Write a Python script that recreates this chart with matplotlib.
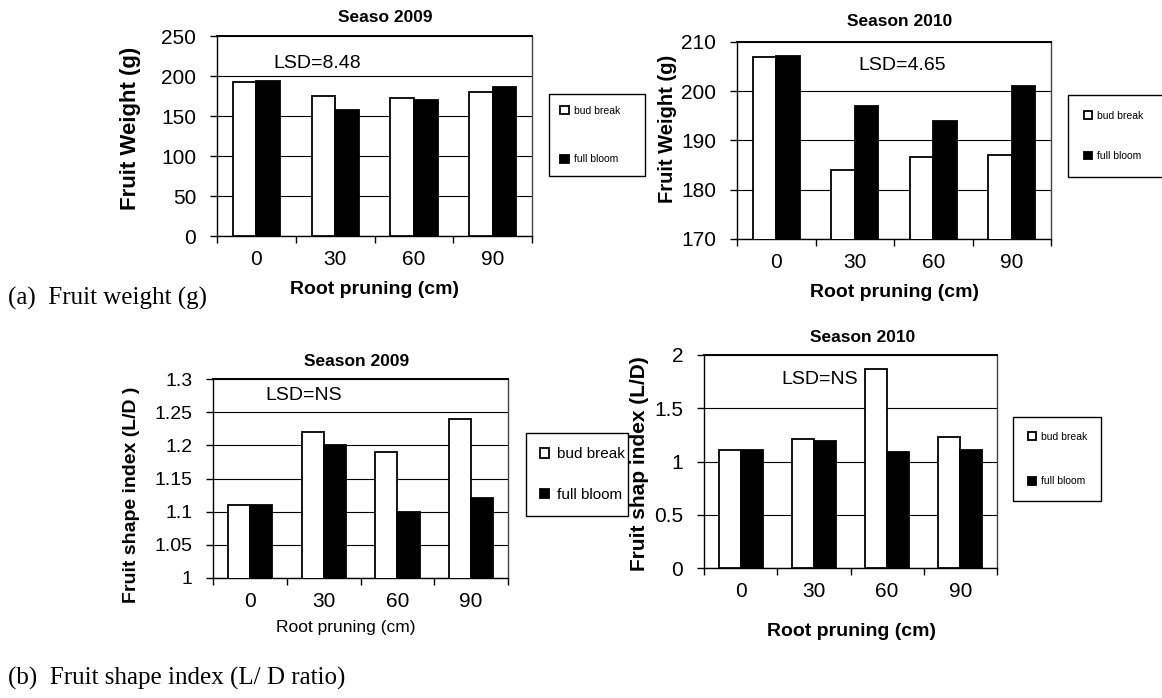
import numpy as np
import matplotlib
matplotlib.use("Agg")
import matplotlib.pyplot as plt

plt.rcParams['font.family'] = ['Liberation Sans', 'DejaVu Sans']

categories = ['0', '30', '60', '90']
series_names = ['bud break', 'full bloom']

# (a) Fruit weight (g)
weight_2009_bud = [193, 175, 172.5, 180]
weight_2009_full = [194, 158, 170, 186]
weight_2010_bud = [207, 184, 186.7, 187]
weight_2010_full = [207.2, 197, 194, 201]

# (b) Fruit shape index (L/D)
shape_2009_bud = [1.11, 1.22, 1.19, 1.24]
shape_2009_full = [1.11, 1.20, 1.10, 1.12]
shape_2010_bud = [1.11, 1.21, 1.87, 1.23]
shape_2010_full = [1.11, 1.19, 1.09, 1.11]

W, H = 1162, 698
fig = plt.figure(figsize=(W / 100, H / 100), dpi=100)


def px_axes(x0, y0, x1, y1):
    return fig.add_axes([x0 / W, 1 - y1 / H, (x1 - x0) / W, (y1 - y0) / H])


def draw_panel(ax, bud, full, ylim, yticks, ytick_labels, tick_fs, xtick_fs):
    x = np.arange(len(categories))
    w = 0.3
    b1 = ax.bar(x - w / 2, bud, w, color='white', edgecolor='black', linewidth=1.3, zorder=3,
                label=series_names[0])
    b2 = ax.bar(x + w / 2, full, w, color='black', edgecolor='black', linewidth=1.3, zorder=3,
                label=series_names[1])
    ax.set_xlim(-0.5, len(categories) - 0.5)
    ax.set_ylim(*ylim)
    ax.set_yticks(yticks)
    ax.set_yticklabels(ytick_labels, fontsize=tick_fs)
    ax.set_xticks(np.arange(len(categories) + 1) - 0.5)
    ax.set_xticklabels([])
    ax.set_xticks(x, minor=True)
    ax.set_xticklabels(categories, minor=True, fontsize=xtick_fs)
    ax.tick_params(axis='x', which='major', direction='out', length=5, width=1, color='black')
    ax.tick_params(axis='x', which='minor', length=0, pad=10)
    ax.tick_params(axis='y', direction='out', length=5, width=1, pad=10)
    ax.yaxis.grid(True, color='black', linewidth=0.8, zorder=0)
    ax.set_axisbelow(True)
    for s in ax.spines.values():
        s.set_color('black')
        s.set_linewidth(1.0)
    ax.spines['top'].set_linewidth(1.4)
    ax.spines['right'].set_color('#444444')
    return b1, b2


def add_legend(ax, handles, x0, y0, x1, fs, spacing, pad, marker):
    leg = ax.legend(handles, series_names, loc='upper left',
                    bbox_to_anchor=(x0 / W, 1 - y0 / H, (x1 - x0) / W, 0.001),
                    bbox_transform=fig.transFigure, mode='expand', borderaxespad=0,
                    fontsize=fs, labelspacing=spacing, borderpad=pad,
                    handlelength=marker, handleheight=marker, handletextpad=0.5,
                    fancybox=False, framealpha=1, edgecolor='black')
    leg.get_frame().set_linewidth(1.0)
    return leg


# ---------- Top-left: Fruit weight 2009 ----------
ax1 = px_axes(217, 36, 532, 236)
h = draw_panel(ax1, weight_2009_bud, weight_2009_full, (0, 250), [0, 50, 100, 150, 200, 250],
               ['0', '50', '100', '150', '200', '250'], 15, 15)
ax1.set_ylabel('Fruit Weight (g)', fontsize=16, fontweight='bold')
ax1.yaxis.set_label_coords(-0.276, 0.54)
ax1.yaxis.label.set_va('center')
ax1.set_xlabel('Root pruning (cm)', fontsize=14, fontweight='bold')
ax1.xaxis.set_label_coords(0.5, -0.27)
ax1.xaxis.label.set_va('center')
fig.text(385 / W, 1 - 18 / H, 'Seaso 2009', ha='center', va='center', fontsize=12.5,
         fontweight='bold')
fig.text(317 / W, 1 - 63 / H, 'LSD=8.48', ha='center', va='center', fontsize=14)
add_legend(ax1, h, 549, 95, 645, 7.5, 3.7, 1.1, 0.8)

# ---------- Top-right: Fruit weight 2010 ----------
ax2 = px_axes(737, 42, 1051, 239)
h = draw_panel(ax2, weight_2010_bud, weight_2010_full, (170, 210), [170, 180, 190, 200, 210],
               ['170', '180', '190', '200', '210'], 15, 15)
ax2.set_ylabel('Fruit Weight (g)', fontsize=14.5, fontweight='bold')
ax2.yaxis.set_label_coords(-0.222, 0.56)
ax2.yaxis.label.set_va('center')
ax2.set_xlabel('Root pruning (cm)', fontsize=14, fontweight='bold')
ax2.xaxis.set_label_coords(0.5, -0.27)
ax2.xaxis.label.set_va('center')
fig.text(900 / W, 1 - 22 / H, 'Season 2010', ha='center', va='center', fontsize=12.5,
         fontweight='bold')
fig.text(902 / W, 1 - 65 / H, 'LSD=4.65', ha='center', va='center', fontsize=14)
add_legend(ax2, h, 1068, 96, 1175, 7.5, 2.9, 1.5, 0.8)

# ---------- Bottom-left: Fruit shape 2009 ----------
ax3 = px_axes(213, 379, 508, 578)
h = draw_panel(ax3, shape_2009_bud, shape_2009_full, (1.0, 1.3),
               [1.0, 1.05, 1.1, 1.15, 1.2, 1.25, 1.3],
               ['1', '1.05', '1.1', '1.15', '1.2', '1.25', '1.3'], 14, 15)
ax3.set_ylabel('Fruit shape index (L/D )', fontsize=14, fontweight='bold')
ax3.yaxis.set_label_coords(-0.275, 0.42)
ax3.yaxis.label.set_va('center')
ax3.set_xlabel('Root pruning (cm)', fontsize=12.5)
ax3.xaxis.set_label_coords(0.45, -0.25)
ax3.xaxis.label.set_va('center')
fig.text(357 / W, 1 - 362 / H, 'Season 2009', ha='center', va='center', fontsize=12.5,
         fontweight='bold')
fig.text(304 / W, 1 - 395 / H, 'LSD=NS', ha='center', va='center', fontsize=14)
add_legend(ax3, h, 526, 434, 628, 11, 1.75, 0.9, 0.6)

# ---------- Bottom-right: Fruit shape 2010 ----------
ax4 = px_axes(704, 355, 997, 568)
h = draw_panel(ax4, shape_2010_bud, shape_2010_full, (0, 2), [0, 0.5, 1, 1.5, 2],
               ['0', '0.5', '1', '1.5', '2'], 15, 15)
ax4.set_ylabel('Fruit shap index (L/D)', fontsize=15, fontweight='bold')
ax4.yaxis.set_label_coords(-0.22, 0.49)
ax4.yaxis.label.set_va('center')
ax4.set_xlabel('Root pruning (cm)', fontsize=14, fontweight='bold')
ax4.xaxis.set_label_coords(0.505, -0.30)
ax4.xaxis.label.set_va('center')
fig.text(863 / W, 1 - 338 / H, 'Season 2010', ha='center', va='center', fontsize=12.5,
         fontweight='bold')
fig.text(820 / W, 1 - 380 / H, 'LSD=NS', ha='center', va='center', fontsize=14)
add_legend(ax4, h, 1013, 418, 1101, 7.5, 3.3, 1.4, 0.8)

# ---------- Captions ----------
fig.text(8 / W, 1 - 298 / H, '(a)  Fruit weight (g)', ha='left', va='center', fontsize=18,
         family=['Liberation Serif'])
fig.text(8 / W, 1 - 678 / H, '(b)  Fruit shape index (L/ D ratio)', ha='left', va='center',
         fontsize=18, family=['Liberation Serif'])

fig.savefig('out.png', dpi=100)
